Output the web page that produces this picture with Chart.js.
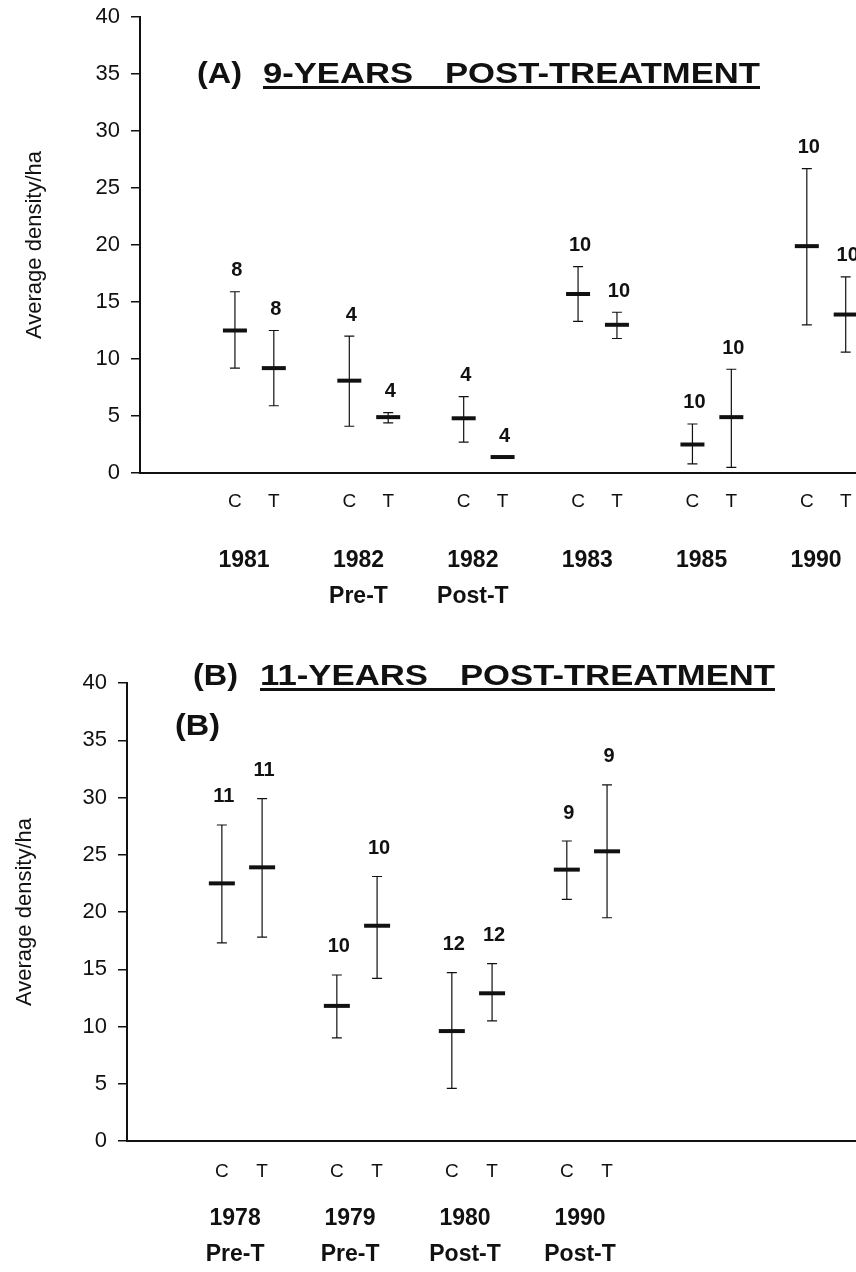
<!DOCTYPE html>
<html>
<head>
<meta charset="utf-8">
<script src="https://cdn.jsdelivr.net/npm/chart.js@4.4.0/dist/chart.umd.min.js"></script>
<style>
  html, body { margin: 0; padding: 0; background: #fff; overflow: hidden; }
  .panel { position: absolute; left: 0; width: 856px; }
  .panel canvas { display: block; }
  #panelA { top: 0; height: 625px; }
  #panelB { top: 625px; height: 647px; }
</style>
</head>
<body>
<div class="panel" id="panelA"><canvas id="chartA" width="856" height="625"></canvas></div>
<div class="panel" id="panelB"><canvas id="chartB" width="856" height="647"></canvas></div>
<script>
// ---- Panel A: 9 years post-treatment ----
const yearsA = [["1981"], ["1982", "Pre-T"], ["1982", "Post-T"], ["1983"], ["1985"], ["1990"]];
const meanA_C = [12.5, 8.1, 4.8, 15.7, 2.5, 19.9];
const hiA_C   = [15.9, 12.0, 6.7, 18.1, 4.3, 26.7];
const loA_C   = [9.2, 4.1, 2.7, 13.3, 0.8, 13.0];
const meanA_T = [9.2, 4.9, 1.4, 13.0, 4.9, 13.9];
const hiA_T   = [12.5, 5.3, 1.4, 14.1, 9.1, 17.2];
const loA_T   = [5.9, 4.4, 1.4, 11.8, 0.5, 10.6];
const nA_C = [8, 4, 4, 10, 10, 10];
const nA_T = [8, 4, 4, 10, 10, 10];

// ---- Panel B: 11 years post-treatment ----
const yearsB = [["1978", "Pre-T"], ["1979", "Pre-T"], ["1980", "Post-T"], ["1990", "Post-T"]];
const meanB_C = [22.5, 11.8, 9.6, 23.7];
const hiB_C   = [27.6, 14.5, 14.7, 26.2];
const loB_C   = [17.3, 9.0, 4.6, 21.1];
const meanB_T = [23.9, 18.8, 12.9, 25.3];
const hiB_T   = [29.9, 23.1, 15.5, 31.1];
const loB_T   = [17.8, 14.2, 10.5, 19.5];
const nB_C = [11, 10, 12, 9];
const nB_T = [11, 10, 12, 9];

const yTicks = [0, 5, 10, 15, 20, 25, 30, 35, 40];
const groupLetters = ["C", "T"];

const FONT = "'Liberation Sans', Arial, Helvetica, sans-serif";
const INK = "#111";

// error bars + sample size labels, drawn through the chart scales
const errorBars = {
  id: 'errorBars',
  beforeDatasetsDraw(chart) {
    const ctx = chart.ctx, y = chart.scales.y;
    chart.data.datasets.forEach((ds, d) => {
      chart.getDatasetMeta(d).data.forEach((pt, i) => {
        const top = y.getPixelForValue(ds.hi[i]);
        const bot = y.getPixelForValue(ds.lo[i]);
        if (bot - top < 2) return;
        ctx.save();
        ctx.strokeStyle = INK;
        ctx.lineWidth = 1.2;
        ctx.beginPath();
        ctx.moveTo(pt.x, top); ctx.lineTo(pt.x, bot);
        ctx.moveTo(pt.x - 5, top); ctx.lineTo(pt.x + 5, top);
        ctx.moveTo(pt.x - 5, bot); ctx.lineTo(pt.x + 5, bot);
        ctx.stroke();
        ctx.restore();
      });
    });
  },
  afterDatasetsDraw(chart, args, opts) {
    const ctx = chart.ctx, y = chart.scales.y;
    ctx.save();
    ctx.fillStyle = INK;
    ctx.font = 'bold 20px ' + FONT;
    ctx.textAlign = 'center';
    ctx.textBaseline = 'middle';
    chart.data.datasets.forEach((ds, d) => {
      chart.getDatasetMeta(d).data.forEach((pt, i) => {
        const top = y.getPixelForValue(Math.max(ds.hi[i], ds.data[i].y));
        ctx.fillText(String(ds.n[i]), pt.x + 2, top - opts.gap);
      });
    });
    ctx.restore();
  }
};

// panel headings (each part stretched to the width it has in the figure)
const panelTitle = {
  id: 'panelTitle',
  afterDraw(chart, args, opts) {
    const ctx = chart.ctx;
    ctx.save();
    ctx.fillStyle = INK;
    ctx.textBaseline = 'alphabetic';
    const put = (p, size, y) => {
      ctx.font = 'bold ' + size + 'px ' + FONT;
      const k = p.w / ctx.measureText(p.text).width;
      ctx.save();
      ctx.translate(p.x, y);
      ctx.scale(k, 1);
      ctx.fillText(p.text, 0, 0);
      ctx.restore();
    };
    opts.parts.forEach(p => put(p, 30, opts.baseline));
    ctx.fillRect(opts.lineFrom, opts.baseline + 3, opts.lineTo - opts.lineFrom, 3);
    if (opts.extra) put(opts.extra, 29, opts.extra.y);
    ctx.restore();
  }
};

function pts(means, off) {
  return means.map((v, i) => ({ x: i + 1 + off, y: v }));
}

function buildChart(id, p) {
  const marks = { pointStyle: 'line', pointRadius: p.barHalf, pointHoverRadius: p.barHalf,
    pointBorderWidth: 4, pointHoverBorderWidth: 4, borderColor: INK, backgroundColor: INK };
  const ctTicks = [];
  p.years.forEach((_, i) => { ctTicks.push(i + 1 - p.off, i + 1 + p.off); });
  const noPad = s => { s.paddingLeft = 0; s.paddingRight = 0; s.paddingTop = 0; s.paddingBottom = 0; };

  return new Chart(document.getElementById(id), {
    type: 'scatter',
    data: {
      datasets: [
        Object.assign({ label: 'C', data: pts(p.meanC, -p.off), hi: p.hiC, lo: p.loC, n: p.nC }, marks),
        Object.assign({ label: 'T', data: pts(p.meanT, p.off), hi: p.hiT, lo: p.loT, n: p.nT }, marks)
      ]
    },
    options: {
      responsive: false,
      animation: false,
      layout: { autoPadding: false, padding: { top: p.top, left: 0, right: 0, bottom: 0 } },
      plugins: {
        legend: { display: false },
        tooltip: { enabled: false },
        errorBars: { gap: p.gap },
        panelTitle: p.title
      },
      scales: {
        x: {
          type: 'linear', min: 0, max: p.maxX, position: 'bottom', weight: 0,
          grid: { display: false, drawTicks: false },
          border: { display: true, color: INK, width: 2 },
          afterBuildTicks: s => { s.ticks = ctTicks.map(v => ({ value: v })); },
          afterFit: s => { s.height = p.ctH; noPad(s); },
          ticks: {
            autoSkip: false, maxRotation: 0, padding: 0, color: INK,
            font: { family: FONT, size: 19, lineHeight: p.ctLine / 19 },
            callback: (v, i) => groupLetters[i % 2]
          }
        },
        x2: {
          type: 'linear', min: 0, max: p.maxX, position: 'bottom', weight: 1,
          grid: { display: false, drawTicks: false },
          border: { display: false },
          afterBuildTicks: s => { s.ticks = p.years.map((_, i) => ({ value: i + 1 + p.yearShift })); },
          afterFit: s => { s.height = p.yearH; noPad(s); },
          ticks: {
            autoSkip: false, maxRotation: 0, padding: 0, color: INK,
            font: { family: FONT, size: 23, weight: 'bold', lineHeight: 1.55 },
            callback: (v, i) => p.years[i]
          }
        },
        y: {
          min: 0, max: 40,
          afterBuildTicks: s => { s.ticks = yTicks.map(v => ({ value: v })); },
          afterFit: s => { s.width = p.left; noPad(s); },
          grid: { drawOnChartArea: false, drawTicks: true, tickLength: 9, color: INK, lineWidth: 1.5 },
          border: { display: true, color: INK, width: 2 },
          ticks: { padding: 11, color: INK, font: { family: FONT, size: 22 } },
          title: {
            display: true, text: 'Average density/ha', color: INK,
            font: { family: FONT, size: 22 }, padding: { top: p.titlePad, bottom: 0 }
          }
        }
      }
    },
    plugins: [errorBars, panelTitle]
  });
}

buildChart('chartA', {
  years: yearsA, meanC: meanA_C, hiC: hiA_C, loC: loA_C, nC: nA_C,
  meanT: meanA_T, hiT: hiA_T, loT: loA_T, nT: nA_T,
  off: 0.17, maxX: 6.26, top: 17, left: 140, gap: 21, barHalf: 12,
  ctLine: 58, ctH: 70, yearH: 82, yearShift: -0.09, titlePad: 22,
  title: {
    baseline: 83, lineFrom: 263, lineTo: 760,
    parts: [{ text: '(A)', x: 197, w: 45 }, { text: '9-YEARS', x: 263, w: 150 }, { text: 'POST-TREATMENT', x: 445, w: 315 }]
  }
});

buildChart('chartB', {
  years: yearsB, meanC: meanB_C, hiC: hiB_C, loC: loB_C, nC: nB_C,
  meanT: meanB_T, hiT: hiB_T, loT: loB_T, nT: nB_T,
  off: 0.175, maxX: 6.34, top: 58, left: 127, gap: 28, barHalf: 13,
  ctLine: 62, ctH: 60, yearH: 71, yearShift: -0.06, titlePad: 12,
  title: {
    baseline: 60, lineFrom: 260, lineTo: 775,
    parts: [{ text: '(B)', x: 193, w: 45 }, { text: '11-YEARS', x: 260, w: 168 }, { text: 'POST-TREATMENT', x: 460, w: 315 }],
    extra: { text: '(B)', x: 175, y: 110, w: 45 }
  }
});
</script>
</body>
</html>
